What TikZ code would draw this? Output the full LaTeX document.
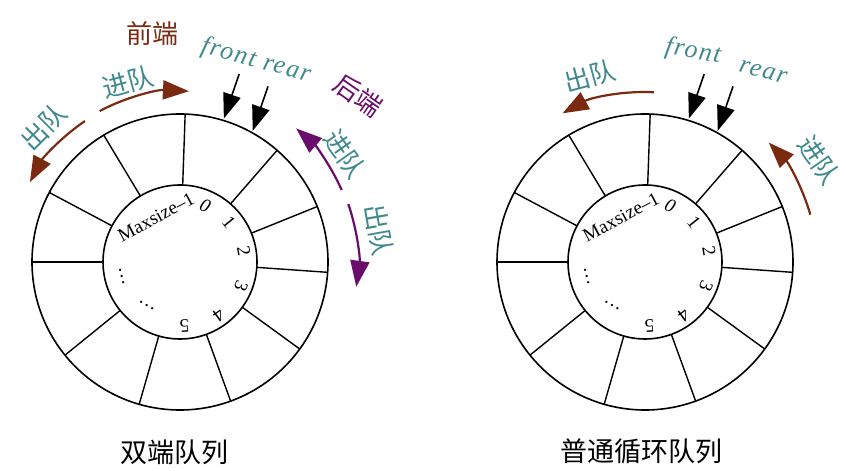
\documentclass[tikz,border=0pt]{standalone}
\usepackage{fontspec}
\setmainfont{Liberation Serif}
\newfontfamily\cjk{Noto Sans CJK SC}
\newfontfamily\spacedit[LetterSpace=6]{Liberation Serif Italic}
\usetikzlibrary{arrows.meta,calc}
\definecolor{qbrown}{HTML}{7A2A10}
\definecolor{qteal}{HTML}{3F8A8E}
\definecolor{qpurple}{HTML}{6A0C6A}
\tikzset{
  ring/.style={draw=black,line width=1.6pt},
  spoke/.style={draw=black,line width=1.4pt},
  num/.style={inner sep=0pt,font=\fontsize{19}{19}\selectfont},
  cjklbl/.style={inner sep=0pt,font=\cjk\fontsize{26}{26}\selectfont},
  caption/.style={inner sep=0pt,font=\cjk\fontsize{27}{27}\selectfont},
  ptr/.style={draw=black,line width=1.6pt,-{Triangle[length=25pt,width=18pt]}},
  bendarrow/.style={line width=2.2pt,-{Triangle[length=26pt,width=19pt]}},
  ital/.style={inner sep=0pt,text=qteal,font=\spacedit\fontsize{26}{26}\selectfont}
}
\begin{document}
\begin{tikzpicture}[x=1pt,y=1pt]
\useasboundingbox (0,0) rectangle (846,471);
\coordinate (L) at (180,209);
\coordinate (R) at (645,209);
% rings
\foreach \c in {L,R}{
  \draw[ring] (\c) circle[radius=148];
  \draw[ring] (\c) circle[radius=77];
  \foreach \a in {88,49,22,-4,-36,-70,-106,-141,180,152,121}{
    \draw[spoke] ($(\c)+(\a:77)$) -- ($(\c)+(\a:148)$);
  }
  \node[num,rotate=-24] (n0\c) at ($(\c)+(66:62)$) {\itshape 0};
  \node[num,rotate=-51] (n1\c) at ($(\c)+(39:63)$) {1};
  \node[num,rotate=-80] (n2\c) at ($(\c)+(10:65)$) {2};
  \node[num,rotate=-112] (n3\c) at ($(\c)+(-22:66)$) {3};
  \node[num,rotate=-144] (n4\c) at ($(\c)+(-54:66)$) {4};
  \node[num,rotate=-176] (n5\c) at ($(\c)+(-86:64)$) {5};
  \node[num,rotate=28] (nm\c) at ($(\c)+(118:51)$) {Maxsize\textendash 1};
  \node[num,rotate=-76] (d1\c) at ($(\c)+(194:60)$) {\ldots};
  \node[num,rotate=-30] (d2\c) at ($(\c)+(233:55)$) {\ldots};
  % front / rear pointers
  \coordinate (ft\c) at ($(\c)+(73:150)$);
  \coordinate (fs\c) at ($(ft\c)+(71:47)$);
  \coordinate (rt\c) at ($(\c)+(61:150)$);
  \coordinate (rs\c) at ($(rt\c)+(71:47)$);
  \draw[ptr] (fs\c) -- (ft\c);
  \draw[ptr] (rs\c) -- (rt\c);
}
% ---- left: double-ended queue ----
\coordinate (la1) at ($(L)+(118:171)$);
\draw[bendarrow,draw=qbrown] (la1) arc[start angle=118,end angle=87,radius=171];
\coordinate (la2) at ($(L)+(124:170)$);
\draw[bendarrow,draw=qbrown] (la2) arc[start angle=124,end angle=152,radius=170];
\coordinate (la3) at ($(L)+(24:177)$);
\draw[bendarrow,draw=qpurple] (la3) arc[start angle=24,end angle=49,radius=177];
\coordinate (la4) at ($(L)+(19:178)$);
\draw[bendarrow,draw=qpurple] (la4) arc[start angle=19,end angle=-8,radius=178];
\node[cjklbl,text=qbrown] (qd) at (152,437) {前端};
\node[ital,rotate=-15] (frl) at (256,410) {front rear};
\node[cjklbl,text=qpurple,rotate=-35] (hd) at (358,376) {后端};
\node[cjklbl,text=qteal,rotate=15] (jd1) at (128,389) {进队};
\node[cjklbl,text=qteal,rotate=45] (cd1) at (44,344) {出队};
\node[cjklbl,text=qteal,rotate=-55] (jd2) at (345,317) {进队};
\node[cjklbl,text=qteal,rotate=-80] (cd2) at (379,241) {出队};
\node[caption] (capL) at (174,19) {双端队列};
% ---- right: ordinary circular queue ----
\coordinate (ra1) at ($(R)+(87:170)$);
\draw[bendarrow,draw=qbrown] (ra1) arc[start angle=87,end angle=119,radius=170];
\coordinate (ra2) at ($(R)+(16:172)$);
\draw[bendarrow,draw=qbrown] (ra2) arc[start angle=16,end angle=44,radius=172];
\node[cjklbl,text=qteal,rotate=15] (cd3) at (590,395) {出队};
\node[ital,rotate=-10] (fr) at (693,419) {front};
\node[ital,rotate=-15] (rr) at (763,399) {rear};
\node[cjklbl,text=qteal,rotate=-55] (jd3) at (819,311) {进队};
\node[caption] (capR) at (641,20) {普通循环队列};
\end{tikzpicture}
\end{document}
